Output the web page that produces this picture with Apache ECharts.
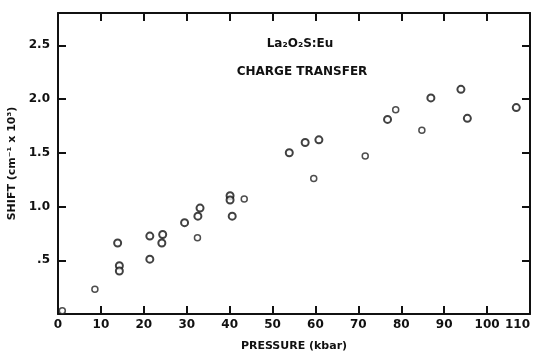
<!DOCTYPE html>
<html>
<head>
<meta charset="utf-8">
<script src="https://cdn.jsdelivr.net/npm/echarts@6/dist/echarts.min.js"></script>
<style>
  html, body { margin: 0; padding: 0; background: #fff; }
  #chart { width: 537px; height: 354px; }
</style>
</head>
<body>
<div id="chart"></div>
<script>
// Charge-transfer band shift of La2O2S:Eu versus pressure
const pressureMain = [13.9, 14.3, 14.3, 21.4, 21.4, 24.4, 24.2, 29.5, 32.6, 33.1, 40.1, 40.1, 40.6, 53.9, 57.6, 60.8, 76.8, 86.9, 93.9, 95.4, 106.8];
const shiftMain    = [0.66, 0.45, 0.40, 0.725, 0.51, 0.74, 0.66, 0.85, 0.91, 0.985, 1.10, 1.06, 0.91, 1.50, 1.595, 1.62, 1.81, 2.01, 2.09, 1.82, 1.92];

// Fainter, smaller points
const pressureSmall = [1.0, 8.6, 32.5, 43.4, 59.6, 71.6, 78.7, 84.8];
const shiftSmall    = [0.03, 0.23, 0.71, 1.07, 1.26, 1.47, 1.90, 1.71];

const xTicks = [0, 10, 20, 30, 40, 50, 60, 70, 80, 90, 100, 110];
const yTicks = [0.5, 1.0, 1.5, 2.0, 2.5];

const font = 'DejaVu Sans';

function pairs(xs, ys) { return xs.map((x, i) => [x, ys[i]]); }

const chart = echarts.init(document.getElementById('chart'), null, { renderer: 'canvas' });

const axisLine = { show: true, onZero: false, lineStyle: { color: '#111', width: 2 } };
const inTick = { show: true, inside: true, length: 8, lineStyle: { color: '#111', width: 2 } };
const xMax = xTicks[xTicks.length - 1];

chart.setOption({
  animation: false,
  backgroundColor: '#fff',
  grid: { left: 58, right: 7, top: 13, bottom: 40, containLabel: false, outerBoundsMode: 'none' },
  xAxis: [
    {
      type: 'value', min: 0, max: xMax, interval: 10, position: 'bottom',
      axisLine: axisLine,
      axisTick: Object.assign({}, inTick, { customValues: xTicks.slice(1, -1) }),
      axisLabel: {
        customValues: xTicks, color: '#111', fontFamily: font, fontWeight: 'bold', fontSize: 12, margin: 5,
        alignMaxLabel: 'right'
      },
      splitLine: { show: false },
      name: 'PRESSURE (kbar)', nameLocation: 'middle', nameGap: 27,
      nameTextStyle: { color: '#111', fontFamily: font, fontWeight: 'bold', fontSize: 11 }
    },
    {
      type: 'value', min: 0, max: xMax, interval: 10, position: 'top',
      axisLine: axisLine,
      axisTick: Object.assign({}, inTick, { customValues: xTicks.slice(1, -1) }),
      axisLabel: { show: false },
      splitLine: { show: false }
    }
  ],
  yAxis: [
    {
      type: 'value', min: 0, max: 2.8, position: 'left',
      axisLine: axisLine,
      axisTick: Object.assign({}, inTick, { customValues: yTicks }),
      axisLabel: {
        customValues: yTicks, color: '#111', fontFamily: font, fontWeight: 'bold', fontSize: 12, margin: 8,
        formatter: v => (v < 1 ? String(v).replace(/^0/, '') : v.toFixed(1))
      },
      splitLine: { show: false },
      name: 'SHIFT (cm\u207B\u00B9 x 10\u00B3)', nameLocation: 'middle', nameGap: 32,
      nameTextStyle: { color: '#111', fontFamily: font, fontWeight: 'bold', fontSize: 11 }
    },
    {
      type: 'value', min: 0, max: 2.8, position: 'right',
      axisLine: axisLine,
      axisTick: Object.assign({}, inTick, { customValues: yTicks }),
      axisLabel: { show: false },
      splitLine: { show: false }
    }
  ],
  title: [
    { text: 'La\u2082O\u2082S:Eu', left: 295, top: 33, textAlign: 'center',
      textStyle: { color: '#111', fontFamily: font, fontWeight: 'bold', fontSize: 12 } },
    { text: 'CHARGE TRANSFER', left: 297, top: 61, textAlign: 'center',
      textStyle: { color: '#111', fontFamily: font, fontWeight: 'bold', fontSize: 12 } }
  ],
  series: [
    {
      type: 'scatter', xAxisIndex: 0, yAxisIndex: 0,
      data: pairs(pressureMain, shiftMain),
      symbol: 'circle', symbolSize: 7,
      itemStyle: { color: '#fff', borderColor: '#111', borderWidth: 2 }
    },
    {
      type: 'scatter', xAxisIndex: 0, yAxisIndex: 0,
      data: pairs(pressureSmall, shiftSmall),
      symbol: 'circle', symbolSize: 6,
      itemStyle: { color: '#fff', borderColor: '#222', borderWidth: 1.5 }
    }
  ]
});
</script>
</body>
</html>
